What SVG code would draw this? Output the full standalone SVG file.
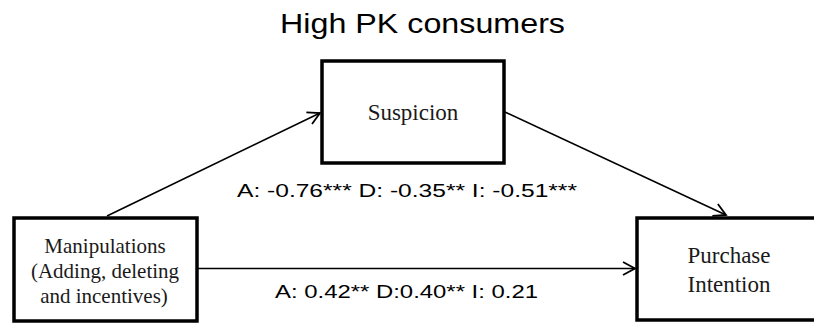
<svg xmlns="http://www.w3.org/2000/svg" width="814" height="324" viewBox="0 0 814 324">
<style>
.box{fill:#fff;stroke:#000;stroke-width:3.5}
.serif{font-family:"Liberation Serif","Times New Roman",serif;fill:#1a1a1a;text-anchor:middle}
.sans{font-family:"Liberation Sans",Arial,sans-serif;fill:#000}
.conn{stroke:#000;stroke-width:1.6;fill:none}
</style>
<defs>
<marker id="arr" markerUnits="userSpaceOnUse" markerWidth="16" markerHeight="16" viewBox="-14 -8 16 16" refX="0" refY="0" orient="auto">
<path d="M-12,-6.5 L0,0 L-12,6.5" fill="none" stroke="#000" stroke-width="1.8"/>
</marker>
</defs>
<rect width="814" height="324" fill="#fff"/>
<text class="sans" x="280" y="33" font-size="28" textLength="285" lengthAdjust="spacingAndGlyphs">High PK consumers</text>
<g id="connectors">
<line class="conn" x1="107" y1="216" x2="320" y2="113" marker-end="url(#arr)"/>
<line class="conn" x1="505" y1="112" x2="726" y2="215" marker-end="url(#arr)"/>
<line class="conn" x1="197" y1="268.5" x2="635" y2="268.5" marker-end="url(#arr)"/>
<text class="sans" x="237" y="197" font-size="19" textLength="340" lengthAdjust="spacingAndGlyphs">A: -0.76*** D: -0.35** I: -0.51***</text>
<text class="sans" x="275" y="298" font-size="19" textLength="263" lengthAdjust="spacingAndGlyphs">A: 0.42** D:0.40** I: 0.21</text>
</g>
<g id="suspicion">
<rect class="box" x="322" y="61" width="182" height="102"/>
<text class="serif" x="413" y="120" font-size="23">Suspicion</text>
</g>
<g id="manipulations">
<rect class="box" x="14" y="218" width="183" height="103"/>
<text class="serif" x="105" y="253" font-size="21">Manipulations</text>
<text class="serif" x="105" y="278" font-size="21">(Adding, deleting</text>
<text class="serif" x="104" y="303" font-size="21">and incentives)</text>
</g>
<g id="purchase">
<rect class="box" x="637" y="218" width="200" height="102"/>
<text class="serif" x="729" y="263" font-size="23">Purchase</text>
<text class="serif" x="729" y="292" font-size="23">Intention</text>
</g>
</svg>
